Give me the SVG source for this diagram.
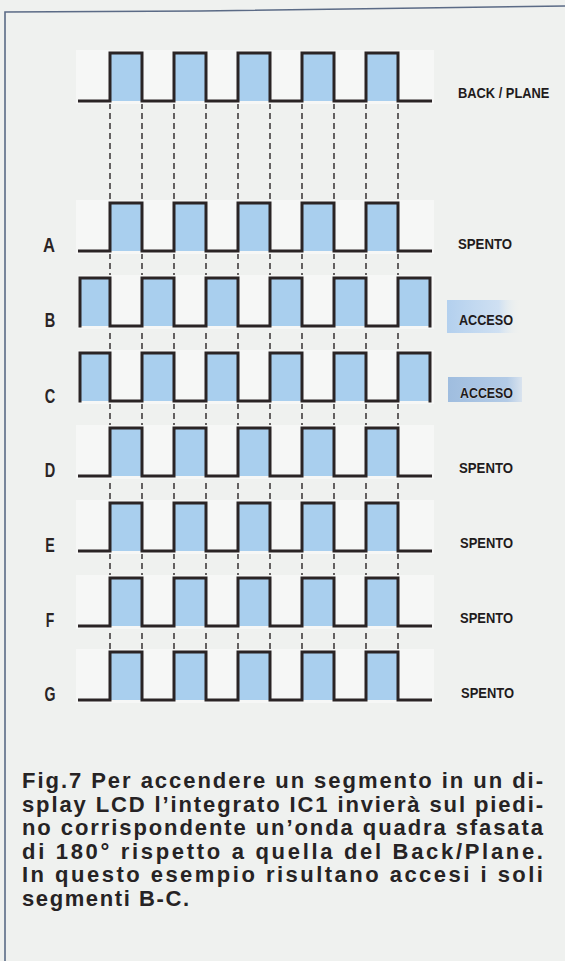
<svg xmlns="http://www.w3.org/2000/svg" xmlns:xlink="http://www.w3.org/1999/xlink" width="565" height="961" viewBox="0 0 565 961">
<style>
.wave{fill:none;stroke:#2a2425;stroke-width:3;stroke-linejoin:miter;stroke-linecap:butt}
.fill{fill:#a9cfee}
.band{fill:#f6f7f6}
.dash{stroke:#2a2425;stroke-width:1.4;stroke-dasharray:6 4;fill:none}
.lbl{font-family:"Liberation Sans",Arial,sans-serif;font-weight:bold;font-size:20px;fill:#2a2425;text-anchor:middle}
.st{font-family:"Liberation Sans",Arial,sans-serif;font-weight:bold;font-size:15.5px;fill:#1f1b1c}
.cap{font-family:"Liberation Sans",Arial,sans-serif;font-weight:bold;font-size:22px;fill:#262324}
</style>
<defs>
<g id="waveN">
<rect class="band" x="76" y="-3" width="358" height="54"/>
<rect class="fill" x="110" y="0" width="32" height="48"/>
<rect class="fill" x="174" y="0" width="32" height="48"/>
<rect class="fill" x="238" y="0" width="32" height="48"/>
<rect class="fill" x="302" y="0" width="32" height="48"/>
<rect class="fill" x="366" y="0" width="32" height="48"/>
<path class="wave" d="M78,48 H110 V0 H142 V48 H174 V0 H206 V48 H238 V0 H270 V48 H302 V0 H334 V48 H366 V0 H398 V48 H432"/>
</g>
<g id="waveI">
<rect class="band" x="78" y="-3" width="356" height="54"/>
<rect class="fill" x="80" y="0" width="30" height="48"/>
<rect class="fill" x="142" y="0" width="32" height="48"/>
<rect class="fill" x="206" y="0" width="32" height="48"/>
<rect class="fill" x="270" y="0" width="32" height="48"/>
<rect class="fill" x="334" y="0" width="32" height="48"/>
<rect class="fill" x="398" y="0" width="32" height="48"/>
<path class="wave" d="M80,49.5 V0 H110 V48 H142 V0 H174 V48 H206 V0 H238 V48 H270 V0 H302 V48 H334 V0 H366 V48 H398 V0 H430 V49.5"/>
</g>
<linearGradient id="gB" x1="0" y1="0" x2="1" y2="0">
<stop offset="0" stop-color="#b3d0ee"/>
<stop offset="0.7" stop-color="#cfe0f2"/>
<stop offset="1" stop-color="#eef1ee" stop-opacity="0"/>
</linearGradient>
<linearGradient id="gC" x1="0" y1="0" x2="1" y2="0">
<stop offset="0" stop-color="#9fbddf"/>
<stop offset="0.8" stop-color="#b3cbe6"/>
<stop offset="1" stop-color="#d9e3ee"/>
</linearGradient>
</defs>
<rect x="0" y="0" width="565" height="961" fill="#eff1ef"/>
<g id="frame" fill="none" stroke="#5b6b86" stroke-width="1.6">
<path d="M5,961 V12 L200,11 L420,8 L565,6"/>
</g>
<g id="connectors">
<path class="dash" d="M110,103 V652 M142,103 V652 M174,103 V652 M206,103 V652 M238,103 V652 M270,103 V652 M302,103 V652 M334,103 V652 M366,103 V652 M398,103 V652"/>
</g>
<g id="backplane">
<use xlink:href="#waveN" y="53"/>
<text class="st" transform="translate(458,98) scale(0.83,1)">BACK / PLANE</text>
</g>
<g id="row-A">
<use xlink:href="#waveN" y="203"/>
<text class="lbl" x="49" y="252" textLength="12" lengthAdjust="spacingAndGlyphs">A</text>
<text class="st" x="458" y="249" textLength="54" lengthAdjust="spacingAndGlyphs">SPENTO</text>
</g>
<g id="row-B">
<use xlink:href="#waveI" y="278"/>
<text class="lbl" x="50" y="327" textLength="10.5" lengthAdjust="spacingAndGlyphs">B</text>
<rect x="447" y="300" width="74" height="33" fill="url(#gB)"/>
<text class="st" x="459" y="325" textLength="54" lengthAdjust="spacingAndGlyphs">ACCESO</text>
</g>
<g id="row-C">
<use xlink:href="#waveI" y="353"/>
<text class="lbl" x="50" y="403" textLength="10.5" lengthAdjust="spacingAndGlyphs">C</text>
<rect x="448" y="377" width="74" height="25" fill="url(#gC)"/>
<text class="st" x="460" y="398" textLength="53" lengthAdjust="spacingAndGlyphs" stroke="#e8eef5" stroke-width="0.6" paint-order="stroke">ACCESO</text>
</g>
<g id="row-D">
<use xlink:href="#waveN" y="428"/>
<text class="lbl" x="50" y="477" textLength="10.5" lengthAdjust="spacingAndGlyphs">D</text>
<text class="st" x="459" y="473" textLength="54" lengthAdjust="spacingAndGlyphs">SPENTO</text>
</g>
<g id="row-E">
<use xlink:href="#waveN" y="503"/>
<text class="lbl" x="50" y="552" textLength="9.5" lengthAdjust="spacingAndGlyphs">E</text>
<text class="st" x="460" y="548" textLength="53" lengthAdjust="spacingAndGlyphs">SPENTO</text>
</g>
<g id="row-F">
<use xlink:href="#waveN" y="578"/>
<text class="lbl" x="50" y="627" textLength="8.5" lengthAdjust="spacingAndGlyphs">F</text>
<text class="st" x="460" y="623" textLength="53" lengthAdjust="spacingAndGlyphs">SPENTO</text>
</g>
<g id="row-G">
<use xlink:href="#waveN" y="652"/>
<text class="lbl" x="50" y="701" textLength="11" lengthAdjust="spacingAndGlyphs">G</text>
<text class="st" x="461" y="698" textLength="53" lengthAdjust="spacingAndGlyphs">SPENTO</text>
</g>
<g id="caption">
<text class="cap" x="22" y="788" textLength="521" lengthAdjust="spacing">Fig.7 Per accendere un segmento in un di-</text>
<text class="cap" x="22" y="811.5" textLength="521" lengthAdjust="spacing">splay LCD l’integrato IC1 invierà sul piedi-</text>
<text class="cap" x="22" y="835" textLength="521" lengthAdjust="spacing">no corrispondente un’onda quadra sfasata</text>
<text class="cap" x="22" y="858.5" textLength="521" lengthAdjust="spacing">di 180° rispetto a quella del Back/Plane.</text>
<text class="cap" x="22" y="882" textLength="521" lengthAdjust="spacing">In questo esempio risultano accesi i soli</text>
<text class="cap" x="22" y="905.5" letter-spacing="1.6">segmenti B-C.</text>
</g>
</svg>
